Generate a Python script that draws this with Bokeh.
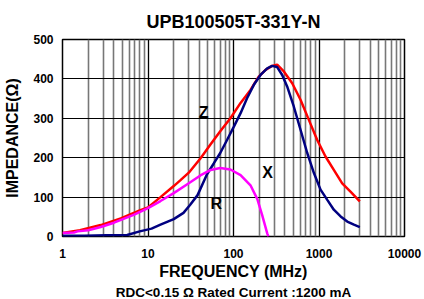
from bokeh.plotting import figure
from bokeh.models import Title, Label, FixedTicker, LogTicker
from bokeh.embed import file_html
from bokeh.resources import INLINE

# ---- data ----
z_freq = [1, 1.6, 2.8, 4.8, 8, 10, 14, 20, 24, 30, 41, 54, 70, 92, 121, 158, 198, 237, 283,
          324, 388, 486, 608, 761, 953, 1191, 1490, 1867, 2335, 3000]
z_val  = [9, 16, 29, 46, 66, 74, 100, 128, 143, 162, 198, 234, 267, 300, 339, 372, 406, 423, 433,
          436, 419, 389, 347, 296, 245, 203, 169, 135, 114, 89]

x_freq = [1, 1.8, 3.3, 5.7, 8, 11, 14, 20, 26, 31, 38, 49, 59, 70, 84, 101, 121, 144, 173, 207,
          248, 283, 324, 371, 424, 507, 608, 728, 872, 1042, 1250, 1490, 1790, 2140, 2560, 3000]
x_val  = [2, 2, 3, 4, 13, 20, 30, 44, 60, 80, 105, 158, 186, 212, 245, 279, 313, 351, 385, 410,
          427, 433, 430, 410, 381, 330, 271, 212, 161, 119, 93, 68, 51, 38, 30, 24]

r_freq = [1, 1.36, 1.5, 2, 2.8, 4, 6.8, 10, 14, 20, 30, 41, 54, 70, 92, 121, 158, 190, 216, 248, 256]
r_val  = [9, 10, 13, 16, 24, 35, 55, 72, 90, 110, 135, 155, 169, 174, 170, 156, 130, 95, 55, 8, 0]

x_ticks = [1, 10, 100, 1000, 10000]
y_ticks = [0, 100, 200, 300, 400, 500]

FONT = "Liberation Sans"

p = figure(width=424, height=299, x_axis_type="log",
           x_range=(1, 10000), y_range=(0, 500),
           output_backend="svg", toolbar_location=None,
           min_border_left=62, min_border_right=20,
           min_border_top=39, min_border_bottom=62)

p.title.text = "UPB100505T-331Y-N"
p.title.align = "center"
p.title.text_font = FONT
p.title.text_font_size = "18px"
p.title.text_font_style = "bold"
p.title.text_color = "black"
p.title.standoff = 15

p.outline_line_color = "black"
p.outline_line_width = 1.5

# grids
p.xgrid.ticker = LogTicker(num_minor_ticks=10)
p.xgrid.grid_line_color = "black"
p.xgrid.grid_line_width = 1
p.xgrid.minor_grid_line_color = "#777777"
p.xgrid.minor_grid_line_width = 1.6
p.ygrid.ticker = FixedTicker(ticks=y_ticks)
p.ygrid.grid_line_color = "black"
p.ygrid.grid_line_width = 1.2

# axes
p.xaxis.ticker = FixedTicker(ticks=x_ticks)
p.xaxis.major_label_overrides = {t: str(t) for t in x_ticks}
p.yaxis.ticker = FixedTicker(ticks=y_ticks)
for ax in (p.xaxis[0], p.yaxis[0]):
    ax.axis_line_color = None
    ax.major_tick_line_color = None
    ax.minor_tick_line_color = None
    ax.major_tick_out = 0
    ax.minor_tick_out = 0
    ax.major_label_text_font = FONT
    ax.major_label_text_font_size = "12px"
    ax.major_label_text_font_style = "bold"
    ax.axis_label_text_font = FONT
    ax.axis_label_text_font_size = "16px"
    ax.axis_label_text_font_style = "bold"
    ax.axis_label_text_color = "black"
    ax.major_label_text_color = "black"

p.xaxis.major_label_standoff = 12
p.xaxis.axis_label = "FREQUENCY (MHz)"
p.xaxis.axis_label_standoff = 2
p.yaxis.major_label_standoff = 9
p.yaxis.axis_label = "IMPEDANCE(Ω)"
p.yaxis.axis_label_standoff = 9

sub = Title(text="RDC<0.15 Ω Rated Current :1200 mA", align="center",
            text_font=FONT, text_font_size="13.5px", text_font_style="bold",
            text_color="black", standoff=0)
p.add_layout(sub, "below")

# curves
p.line(z_freq, z_val, line_color="#ff0000", line_width=2.5)
p.line(x_freq, x_val, line_color="#000080", line_width=2.5)
p.line(r_freq, r_val, line_color="#ff00ff", line_width=2.5)

for txt, fx, fy in (("Z", 44.6, 314), ("X", 250, 162), ("R", 63, 83)):
    p.add_layout(Label(x=fx, y=fy, text=txt, text_font=FONT, text_color="black",
                       text_font_size="16px", text_font_style="bold",
                       text_align="center", text_baseline="middle"))

open("out.html", "w").write(file_html(p, INLINE))
